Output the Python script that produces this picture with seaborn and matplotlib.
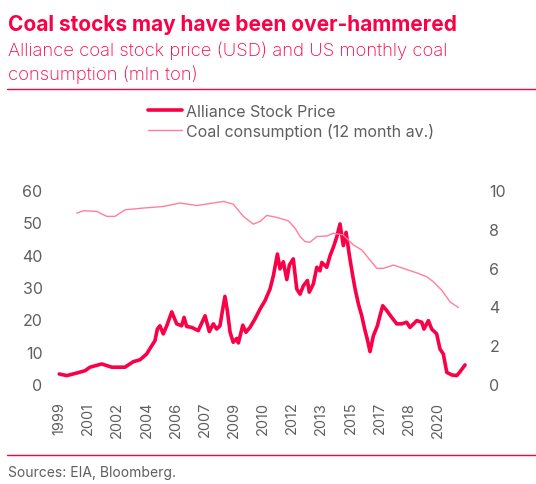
import numpy as np
import pandas as pd
import seaborn as sns
import matplotlib.pyplot as plt
from matplotlib.lines import Line2D

sns.set_style("white")
plt.rcParams['font.family'] = ['Inter', 'DejaVu Sans']

# Alliance stock price (USD)
stock_year = [1999.68, 2000.09, 2000.63, 2001.08, 2001.35, 2001.99, 2002.53, 2003.25, 2003.70, 2004.07,
              2004.43, 2004.70, 2004.88, 2005.01, 2005.15, 2005.33, 2005.52, 2005.79, 2006.06, 2006.33,
              2006.46, 2006.60, 2006.88, 2007.23, 2007.60, 2007.83, 2008.05, 2008.23, 2008.41, 2008.56,
              2008.68, 2008.81, 2008.96, 2009.13, 2009.32, 2009.41, 2009.65, 2009.82, 2010.04, 2010.31,
              2010.59, 2010.86, 2011.13, 2011.31, 2011.53, 2011.67, 2011.85, 2012.04, 2012.18, 2012.39,
              2012.58, 2012.76, 2012.94, 2013.16, 2013.26, 2013.48, 2013.67, 2013.84, 2013.94, 2014.21,
              2014.39, 2014.57, 2014.75, 2014.93, 2015.11, 2015.26, 2015.44, 2015.62, 2015.75, 2015.93,
              2016.11, 2016.29, 2016.41, 2016.56, 2016.74, 2016.96, 2017.10, 2017.25, 2017.47, 2017.74,
              2018.01, 2018.28, 2018.55, 2018.73, 2019.10, 2019.37, 2019.49, 2019.73, 2019.91, 2020.18,
              2020.36, 2020.54, 2020.73, 2021.00, 2021.27, 2021.45, 2021.72]
stock_price = [3.1, 2.6, 3.4, 4.1, 5.2, 6.2, 5.2, 5.2, 6.9, 7.5,
               9.3, 11.8, 13.4, 17.0, 18.0, 15.5, 18.0, 22.3, 18.6, 18.0,
               20.6, 17.8, 17.5, 16.5, 21.1, 16.2, 18.6, 17.0, 18.0, 23.2,
               27.1, 22.7, 16.0, 12.9, 14.1, 12.7, 18.2, 16.0, 17.5, 20.1,
               23.2, 25.8, 29.4, 33.5, 40.2, 35.6, 37.8, 32.3, 36.8, 38.7,
               29.4, 27.8, 30.4, 32.0, 28.4, 30.9, 36.1, 35.0, 37.6, 36.1,
               39.7, 42.3, 45.4, 49.5, 42.8, 46.9, 39.7, 33.5, 29.4, 24.7,
               21.1, 16.5, 13.9, 10.0, 14.9, 18.0, 21.1, 24.2, 22.7, 20.6,
               18.6, 18.6, 19.1, 17.5, 19.6, 19.1, 17.0, 19.6, 17.0, 15.5,
               10.8, 9.3, 3.6, 2.8, 2.6, 3.8, 5.9]

# US coal consumption, 12 month average (mln ton)
coal_year = [2000.63, 2000.99, 2001.71, 2002.26, 2002.71, 2003.25, 2004.25, 2005.33, 2006.24, 2007.15,
             2008.05, 2008.59, 2009.13, 2009.68, 2010.22, 2010.59, 2010.95, 2011.49, 2012.12, 2012.49,
             2012.76, 2013.03, 2013.30, 2013.67, 2014.21, 2014.57, 2015.11, 2015.65, 2016.11, 2016.56,
             2016.93, 2017.28, 2017.83, 2018.37, 2019.18, 2019.64, 2020.00, 2020.46, 2020.91, 2021.36]
coal_cons = [8.81, 8.93, 8.90, 8.64, 8.64, 8.98, 9.07, 9.15, 9.33, 9.20,
             9.33, 9.41, 9.27, 8.64, 8.24, 8.38, 8.69, 8.59, 8.41, 8.03,
             7.60, 7.34, 7.31, 7.60, 7.63, 7.77, 7.68, 7.17, 6.91, 6.39,
             5.96, 5.96, 6.13, 5.96, 5.70, 5.53, 5.27, 4.83, 4.23, 3.94]

tick_labels = ['1999', '2001', '2002', '2004', '2006', '2007', '2009',
               '2010', '2012', '2013', '2015', '2017', '2018', '2020']
tick_pos = [1999.667 + i * 19 / 12 for i in range(len(tick_labels))]

red = '#FA0046'
pink = '#FF7E9D'
grey = '#5f5f5f'

df_stock = pd.DataFrame({'year': stock_year, 'price': stock_price})
df_coal = pd.DataFrame({'year': coal_year, 'cons': coal_cons})

fig = plt.figure(figsize=(5.36, 4.85), dpi=100)
ax = fig.add_axes([55 / 536, 100 / 485, 415 / 536, 194 / 485])
ax2 = ax.twinx()

sns.lineplot(data=df_stock, x='year', y='price', ax=ax, color=red, linewidth=2.6)
sns.lineplot(data=df_coal, x='year', y='cons', ax=ax2, color=pink, linewidth=1.0)

ax.set_xlim(1999.45, 2021.99)
ax.set_ylim(0, 60)
ax2.set_ylim(0, 10)
ax.set_yticks(range(0, 61, 10))
ax2.set_yticks(range(0, 11, 2))
ax.set_xticks(tick_pos)
ax.set_xticklabels(tick_labels, rotation=90)

for a in (ax, ax2):
    a.set_xlabel('')
    a.set_ylabel('')
    for s in a.spines.values():
        s.set_visible(False)
ax.tick_params(axis='y', length=0, pad=9, labelsize=11.5, labelcolor=grey)
ax2.tick_params(axis='y', length=0, pad=14, labelsize=11.5, labelcolor=grey)
ax.tick_params(axis='x', length=0, pad=12, labelsize=10.5, labelcolor=grey)

# legend
handles = [Line2D([], [], color=red, linewidth=2.6),
           Line2D([], [], color=pink, linewidth=1.0)]
fig.legend(handles, ['Alliance Stock Price', 'Coal consumption (12 month av.)'],
           loc='upper left', bbox_to_anchor=(148 / 536, 1 - 105 / 485),
           frameon=False, fontsize=11.5, labelcolor=grey, handlelength=2.1,
           handletextpad=0.25, labelspacing=0.25, borderaxespad=0, borderpad=0)

# title block
fig.text(8 / 536, 1 - 31 / 485, 'Coal stocks may have been over-hammered',
         fontsize=15, fontweight='bold', color=red)
fig.text(8 / 536, 1 - 56 / 485, 'Alliance coal stock price (USD) and US monthly coal',
         fontsize=13.3, fontweight='light', color=red)
fig.text(8 / 536, 1 - 80 / 485, 'consumption (mln ton)',
         fontsize=13.3, fontweight='light', color=red)
fig.add_artist(Line2D([7 / 536, 1], [1 - 90 / 485] * 2, color=red, linewidth=1.0))
fig.add_artist(Line2D([7 / 536, 1], [1 - 456 / 485] * 2, color=red, linewidth=1.0))
fig.text(8 / 536, 1 - 477 / 485, 'Sources: EIA, Bloomberg.', fontsize=10, color=grey)

fig.savefig('out.png', dpi=100)
